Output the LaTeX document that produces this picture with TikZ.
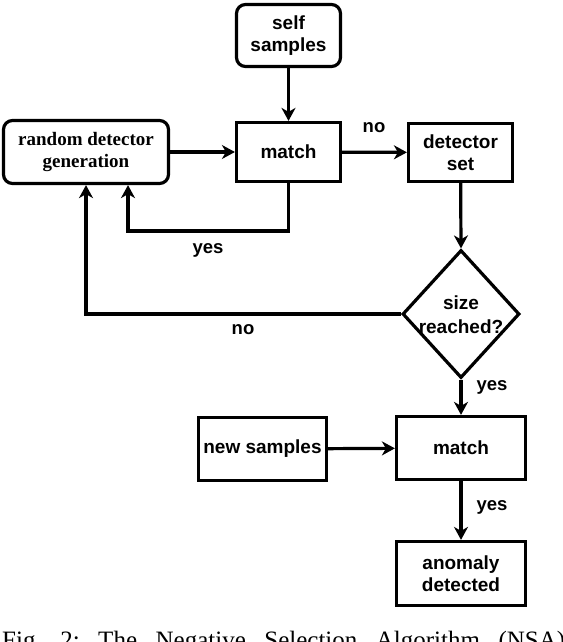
\documentclass[tikz,border=0pt]{standalone}
\usepackage{fontspec}
\newfontfamily\sansf{Liberation Sans}
\newfontfamily\seriff{Liberation Serif}
\usetikzlibrary{arrows.meta,shapes.geometric}
\tikzset{
  box/.style={draw, line width=3.2pt, inner sep=0pt, align=center,
    font=\sansf\bfseries\fontsize{19}{22}\selectfont},
  rbox/.style={box, rounded corners=9pt},
  arr/.style={line width=3.2pt, -{Stealth[length=13pt,width=14pt,inset=4pt]}},
  lbl/.style={inner sep=0pt, font=\sansf\bfseries\fontsize{18.5}{22}\selectfont},
}
\begin{document}
\begin{tikzpicture}[x=1pt,y=-1pt]
\useasboundingbox (0,0) rectangle (562,642);
% nodes
\node[rbox, minimum width=104pt, minimum height=62pt] (self) at (288.5,35.5) {self\\samples};
\node[box, minimum width=104pt, minimum height=59pt] (m1) at (288.5,152) {match};
\node[rbox, minimum width=165pt, minimum height=63pt,
      font=\seriff\bfseries\fontsize{19}{22.5}\selectfont] (rnd) at (86,152) {random detector\\generation};
\node[box, minimum width=104pt, minimum height=58pt] (det) at (460.5,152.5) {detector\\set};
\node[diamond, draw, line width=3.2pt, inner sep=0pt, minimum width=117pt, minimum height=128pt] (dia) at (461,314) {};
\node[inner sep=0pt, align=center, font=\sansf\bfseries\fontsize{19}{24}\selectfont] (diat) at (461,315) {size\\reached?};
\node[box, minimum width=128pt, minimum height=63pt] (ns) at (262.5,449) {new samples};
\node[box, minimum width=129pt, minimum height=63pt] (m2) at (461,448) {match};
\node[box, minimum width=129pt, minimum height=64pt] (an) at (461,573.5) {anomaly\\detected};
% labels
\node[lbl] (lno1) at (374,128) {no};
\node[lbl] (lyes1) at (208,250) {yes};
\node[lbl] (lno2) at (243,330) {no};
\node[lbl] (lyes2) at (492,387) {yes};
\node[lbl] (lyes3) at (492,507) {yes};
% helper coordinates
\coordinate (yl) at (128,231);
\coordinate (nl) at (86,314);
% connectors
\draw[arr] (self) -- (m1);
\draw[arr] (rnd) -- (m1);
\draw[arr] (m1) -- (det);
\draw[arr] (m1.south) |- (yl) -- (yl |- rnd.south);
\draw[arr] (det) -- (dia.north);
\draw[arr] (dia.west) -- (nl) -- (nl |- rnd.south);
\draw[arr] (dia.south) -- (m2);
\draw[arr] (ns) -- (m2);
\draw[arr] (m2) -- (an);
% caption (cut at the bottom edge, as in the reference)
\node[anchor=base west, inner sep=0pt, font=\seriff\fontsize{25}{30}\selectfont] (cap) at (2,648.5)
  {\frenchspacing\makebox[563pt][s]{Fig. 2: The Negative Selection Algorithm (NSA)}};
\end{tikzpicture}
\end{document}
